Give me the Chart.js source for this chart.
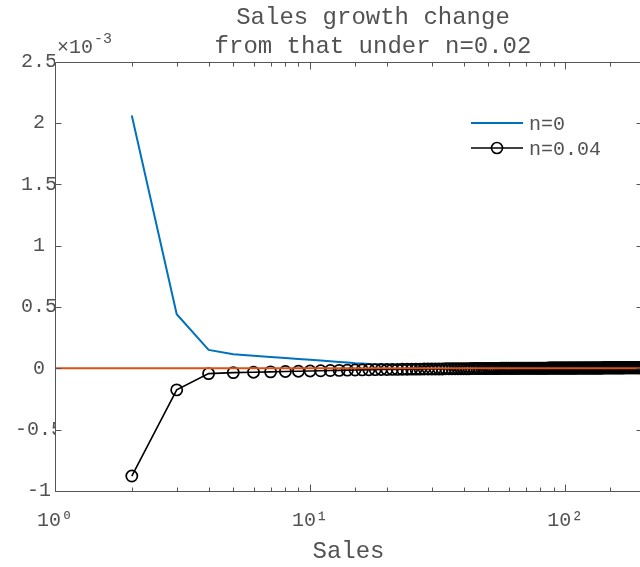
<!DOCTYPE html>
<html>
<head>
<meta charset="utf-8">
<script src="https://cdn.jsdelivr.net/npm/chart.js@4.4.1/dist/chart.umd.min.js"></script>
<style>
  html, body { margin: 0; padding: 0; overflow: hidden; background: #fff; }
  canvas { display: block; }
</style>
</head>
<body>
<canvas id="growth" width="746" height="567"></canvas>
<script>
// Sales levels (log axis)
const sales = [
  2, 3, 4, 5, 6, 7, 8, 9, 10,
  11, 12, 13, 14, 15, 16, 17, 18, 19, 20,
  21, 22, 23, 24, 25, 26, 27, 28, 29, 30,
  31, 32, 33, 34, 35, 36, 37, 38, 39, 40,
  41, 42, 43, 44, 45, 46, 47, 48, 49, 50,
  51, 52, 53, 54, 55, 56, 57, 58, 59, 60,
  61, 62, 63, 64, 65, 66, 67, 68, 69, 70,
  71, 72, 73, 74, 75, 76, 77, 78, 79, 80,
  81, 82, 83, 84, 85, 86, 87, 88, 89, 90,
  91, 92, 93, 94, 95, 96, 97, 98, 99, 100,
  101, 102, 103, 104, 105, 106, 107, 108, 109, 110,
  111, 112, 113, 114, 115, 116, 117, 118, 119, 120,
  121, 122, 123, 124, 125, 126, 127, 128, 129, 130,
  131, 132, 133, 134, 135, 136, 137, 138, 139, 140,
  141, 142, 143, 144, 145, 146, 147, 148, 149, 150,
  151, 152, 153, 154, 155, 156, 157, 158, 159, 160,
  161, 162, 163, 164, 165, 166, 167, 168, 169, 170,
  171, 172, 173, 174, 175, 176, 177, 178, 179, 180,
  181, 182, 183, 184, 185, 186, 187, 188, 189, 190,
  191, 192, 193, 194, 195, 196, 197, 198, 199, 200
];

// Growth change for n = 0 (units of 1e-3)
const changeN0 = [
  2.06, 0.441, 0.150, 0.115, 0.103, 0.093, 0.084, 0.076, 0.069,
  0.063, 0.057, 0.052, 0.047, 0.042, 0.039, 0.036, 0.034, 0.032, 0.030,
  0.029, 0.028, 0.027, 0.026, 0.025, 0.024, 0.023, 0.022, 0.022, 0.021,
  0.020, 0.020, 0.019, 0.019, 0.018, 0.018, 0.017, 0.017, 0.017, 0.016,
  0.016, 0.016, 0.015, 0.015, 0.015, 0.014, 0.014, 0.014, 0.014, 0.013,
  0.013, 0.013, 0.013, 0.013, 0.012, 0.012, 0.012, 0.012, 0.012, 0.012,
  0.012, 0.011, 0.011, 0.011, 0.011, 0.011, 0.011, 0.011, 0.010, 0.010,
  0.010, 0.010, 0.010, 0.010, 0.010, 0.010, 0.010, 0.010, 0.010, 0.010,
  0.010, 0.010, 0.009, 0.009, 0.009, 0.009, 0.009, 0.009, 0.009, 0.009,
  0.009, 0.009, 0.009, 0.009, 0.009, 0.009, 0.009, 0.009, 0.009, 0.009,
  0.009, 0.009, 0.009, 0.008, 0.008, 0.008, 0.008, 0.008, 0.008, 0.008,
  0.008, 0.008, 0.008, 0.008, 0.008, 0.008, 0.008, 0.008, 0.008, 0.008,
  0.008, 0.008, 0.008, 0.008, 0.008, 0.007, 0.007, 0.007, 0.007, 0.007,
  0.007, 0.007, 0.007, 0.007, 0.007, 0.007, 0.007, 0.007, 0.007, 0.007,
  0.007, 0.007, 0.007, 0.007, 0.007, 0.007, 0.007, 0.007, 0.007, 0.007,
  0.007, 0.007, 0.007, 0.006, 0.006, 0.006, 0.006, 0.006, 0.006, 0.006,
  0.006, 0.006, 0.006, 0.006, 0.006, 0.006, 0.006, 0.006, 0.006, 0.006,
  0.006, 0.006, 0.006, 0.006, 0.006, 0.006, 0.006, 0.006, 0.006, 0.006,
  0.006, 0.006, 0.006, 0.006, 0.006, 0.005, 0.005, 0.005, 0.005, 0.005,
  0.005, 0.005, 0.005, 0.005, 0.005, 0.005, 0.005, 0.005, 0.005, 0.005
];

// Growth change for n = 0.04 (units of 1e-3)
const changeN004 = [
  -0.878, -0.176, -0.043, -0.035, -0.032, -0.029, -0.026, -0.024, -0.022,
  -0.020, -0.018, -0.017, -0.015, -0.014, -0.013, -0.012, -0.011, -0.010, -0.010,
  -0.009, -0.009, -0.008, -0.008, -0.007, -0.007, -0.007, -0.006, -0.006, -0.006,
  -0.005, -0.005, -0.005, -0.004, -0.004, -0.004, -0.004, -0.003, -0.003, -0.003,
  -0.003, -0.003, -0.002, -0.002, -0.002, -0.002, -0.002, -0.002, -0.002, -0.001,
  -0.001, -0.001, -0.001, -0.001, -0.001, 0.000, 0.000, 0.000, 0.000, 0.000,
  0.000, 0.000, 0.000, 0.000, 0.000, 0.001, 0.001, 0.001, 0.001, 0.001,
  0.001, 0.001, 0.001, 0.001, 0.001, 0.001, 0.001, 0.001, 0.001, 0.001,
  0.001, 0.001, 0.001, 0.001, 0.001, 0.002, 0.002, 0.002, 0.002, 0.002,
  0.002, 0.002, 0.002, 0.002, 0.002, 0.002, 0.002, 0.002, 0.002, 0.002,
  0.002, 0.002, 0.002, 0.002, 0.002, 0.002, 0.002, 0.002, 0.002, 0.002,
  0.003, 0.003, 0.003, 0.003, 0.003, 0.003, 0.003, 0.003, 0.003, 0.003,
  0.003, 0.003, 0.003, 0.003, 0.003, 0.003, 0.003, 0.003, 0.003, 0.003,
  0.003, 0.003, 0.003, 0.003, 0.003, 0.003, 0.003, 0.003, 0.003, 0.003,
  0.004, 0.004, 0.004, 0.004, 0.004, 0.004, 0.004, 0.004, 0.004, 0.004,
  0.004, 0.004, 0.004, 0.004, 0.004, 0.004, 0.004, 0.004, 0.004, 0.004,
  0.004, 0.004, 0.004, 0.004, 0.004, 0.004, 0.004, 0.004, 0.004, 0.004,
  0.005, 0.005, 0.005, 0.005, 0.005, 0.005, 0.005, 0.005, 0.005, 0.005,
  0.005, 0.005, 0.005, 0.005, 0.005, 0.005, 0.005, 0.005, 0.005, 0.005,
  0.005, 0.005, 0.005, 0.005, 0.005, 0.005, 0.005, 0.005, 0.005, 0.005
];

// Reference level (n = 0.02) spans the whole sales range
const baseSales = [1, 200];
const baseChange = [0, 0];

// Axis ticks and labels
const yTicks = [-1, -0.5, 0, 0.5, 1, 1.5, 2, 2.5];
const yTickLabels = ['-1', '-0.5', '0', '0.5', '1', '1.5', '2', '2.5'];
const xDecades = [1, 10, 100];
const xDecadeLabels = ['10\u2070', '10\u00B9', '10\u00B2'];

const seriesNames = ['n=0', 'n=0.04'];
const titleLines = ['Sales growth change', 'from that under n=0.02'];
const xTitle = 'Sales';
const yExponent = ['\u00D710', '-3'];

const FONT = "'Liberation Mono', 'DejaVu Sans Mono', monospace";
const TEXT = '#525252';
const AXIS = '#555555';
const BLUE = '#0072BD';
const ORANGE = '#D95319';
const BLACK = '#000000';

const toPoints = (xs, ys) => xs.map((v, i) => ({ x: v, y: ys[i] }));

// Box, inward tick marks, exponent label and legend
const framePlugin = {
  id: 'frame',
  afterDatasetsDraw(chart) {
    const { ctx, chartArea: a, scales } = chart;
    const x = scales.x, y = scales.y;
    const L = Math.round(a.left) + 0.5, R = Math.round(a.right) + 0.5;
    const T = Math.round(a.top) + 0.5, B = Math.round(a.bottom) + 0.5;
    ctx.save();
    ctx.strokeStyle = AXIS;
    ctx.lineWidth = 1;
    ctx.beginPath();
    ctx.rect(L, T, R - L, B - T);
    // x ticks (major at decades, minor elsewhere)
    x.ticks.forEach(t => {
      const px = Math.round(x.getPixelForValue(t.value)) + 0.5;
      const lg = Math.log10(t.value);
      const len = Math.abs(lg - Math.round(lg)) < 1e-9 ? 7 : 4;
      ctx.moveTo(px, B); ctx.lineTo(px, B - len);
      ctx.moveTo(px, T); ctx.lineTo(px, T + len);
    });
    // y ticks
    y.ticks.forEach(t => {
      const py = Math.round(y.getPixelForValue(t.value)) + 0.5;
      ctx.moveTo(L, py); ctx.lineTo(L + 6, py);
      ctx.moveTo(R, py); ctx.lineTo(R - 6, py);
    });
    ctx.stroke();

    // exponent label above the y axis
    ctx.fillStyle = TEXT;
    ctx.textBaseline = 'middle';
    ctx.textAlign = 'left';
    ctx.font = '20px ' + FONT;
    ctx.fillText(yExponent[0], a.left + 2, a.top - 14);
    const w = ctx.measureText(yExponent[0]).width;
    ctx.font = '15px ' + FONT;
    ctx.fillText(yExponent[1], a.left + 3 + w, a.top - 23);

    // legend
    const lx0 = 471, lx1 = 523, tx = 529;
    const rows = [123, 148];
    ctx.lineWidth = 2;
    ctx.strokeStyle = BLUE;
    ctx.beginPath(); ctx.moveTo(lx0, rows[0]); ctx.lineTo(lx1, rows[0]); ctx.stroke();
    ctx.lineWidth = 1.6;
    ctx.strokeStyle = BLACK;
    ctx.beginPath(); ctx.moveTo(lx0, rows[1]); ctx.lineTo(lx1, rows[1]); ctx.stroke();
    ctx.beginPath(); ctx.arc((lx0 + lx1) / 2, rows[1], 5.5, 0, Math.PI * 2); ctx.stroke();
    ctx.font = '20px ' + FONT;
    ctx.fillStyle = TEXT;
    ctx.fillText(seriesNames[0], tx, rows[0] + 2);
    ctx.fillText(seriesNames[1], tx, rows[1] + 2);
    ctx.restore();
  }
};

new Chart(document.getElementById('growth'), {
  type: 'line',
  data: {
    datasets: [
      {
        label: 'n=0.02',
        data: toPoints(baseSales, baseChange),
        borderColor: ORANGE,
        borderWidth: 2,
        pointRadius: 0,
        order: 0
      },
      {
        label: seriesNames[1],
        data: toPoints(sales, changeN004),
        borderColor: BLACK,
        borderWidth: 1.6,
        pointRadius: 5.6,
        pointBorderWidth: 1.7,
        pointBorderColor: BLACK,
        pointBackgroundColor: 'rgba(0,0,0,0)',
        order: 1
      },
      {
        label: seriesNames[0],
        data: toPoints(sales, changeN0),
        borderColor: BLUE,
        borderWidth: 2,
        pointRadius: 0,
        order: 2
      }
    ]
  },
  options: {
    responsive: false,
    animation: false,
    events: [],
    layout: { padding: 0 },
    plugins: {
      legend: { display: false },
      tooltip: { enabled: false },
      title: {
        display: true,
        text: titleLines,
        color: TEXT,
        font: { family: FONT, size: 24, weight: 'normal', lineHeight: 1.2 },
        padding: { top: 3, bottom: 1 }
      }
    },
    scales: {
      x: {
        type: 'logarithmic',
        min: 1,
        max: 200,
        border: { display: false },
        grid: { display: false, drawTicks: false },
        afterFit(s) { s.height = 76; },
        ticks: {
          autoSkip: false,
          maxRotation: 0,
          padding: 18,
          color: TEXT,
          font: { family: FONT, size: 20 },
          callback(v) {
            const i = xDecades.indexOf(v);
            return i >= 0 ? xDecadeLabels[i] : '';
          }
        },
        title: {
          display: true,
          text: xTitle,
          color: TEXT,
          font: { family: FONT, size: 24, weight: 'normal' },
          padding: { top: 0, bottom: 1 }
        }
      },
      y: {
        type: 'linear',
        position: 'left',
        min: yTicks[0],
        max: yTicks[yTicks.length - 1],
        border: { display: false },
        grid: { display: false, drawTicks: false },
        afterFit(s) { s.width = 55; },
        afterBuildTicks(s) { s.ticks = yTicks.map(v => ({ value: v })); },
        ticks: {
          crossAlign: 'center',
          padding: -8,
          color: TEXT,
          font: { family: FONT, size: 20 },
          callback(v) { return yTickLabels[yTicks.indexOf(v)]; }
        }
      },
      yRight: {
        type: 'linear',
        position: 'right',
        min: yTicks[0],
        max: yTicks[yTicks.length - 1],
        border: { display: false },
        grid: { display: false, drawTicks: false },
        ticks: { display: false },
        afterFit(s) { s.width = 104; }
      }
    }
  },
  plugins: [framePlugin]
});
</script>
</body>
</html>
